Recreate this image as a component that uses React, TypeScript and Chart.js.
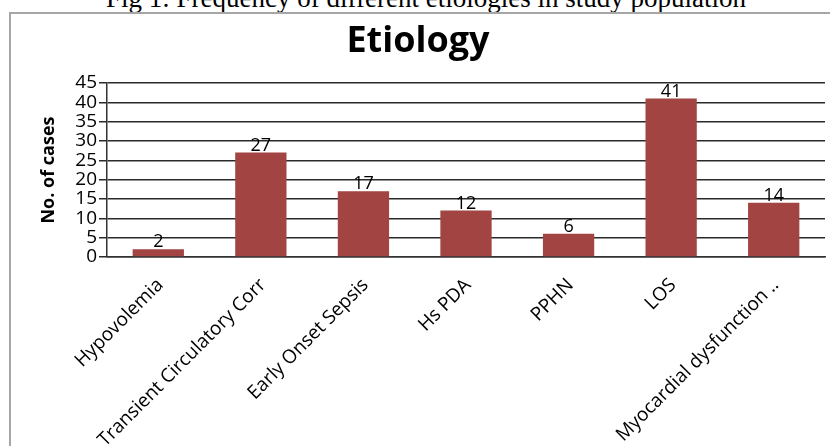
import React, { useEffect, useRef } from "react";
import { Chart, registerables } from "chart.js";

Chart.register(...registerables);

const categories = [
  "Hypovolemia",
  "Transient Circulatory Corr",
  "Early Onset Sepsis",
  "Hs PDA",
  "PPHN",
  "LOS",
  "Myocardial dysfunction ..",
];
const caseCounts = [2, 27, 17, 12, 6, 41, 14];
const yTickMax = 45;
const yTickStep = 5;
const chartTitle = "Etiology";
const yAxisTitle = "No. of cases";
const figureCaption = "Fig 1: Frequency of different etiologies in study population";

const FONT = "'Open Sans', sans-serif";

const valueLabelPlugin = {
  id: "valueLabels",
  afterDatasetsDraw(chart: any) {
    const ctx = chart.ctx;
    const meta = chart.getDatasetMeta(0);
    ctx.save();
    ctx.font = `18px ${FONT}`;
    ctx.fillStyle = "#000";
    ctx.textAlign = "center";
    ctx.textBaseline = "bottom";
    meta.data.forEach((bar: any, i: number) => {
      ctx.fillText(String(chart.data.datasets[0].data[i]), bar.x, bar.y + 2);
    });
    ctx.restore();
  },
};

function EtiologyChart() {
  const ref = useRef<HTMLCanvasElement | null>(null);
  useEffect(() => {
    if (!ref.current) return;
    const chart = new Chart(ref.current, {
      type: "bar",
      data: {
        labels: categories,
        datasets: [
          {
            data: caseCounts,
            backgroundColor: "#a14442",
            borderWidth: 0,
            categoryPercentage: 1,
            barPercentage: 0.5,
          },
        ],
      },
      plugins: [valueLabelPlugin],
      options: {
        responsive: false,
        animation: false,
        layout: { padding: { left: 0, right: 5, top: 0, bottom: 0 } },
        plugins: {
          legend: { display: false },
          tooltip: { enabled: false },
          title: {
            display: true,
            text: chartTitle,
            color: "#000",
            font: { family: FONT, size: 36, weight: "bold" },
            padding: { top: 6, bottom: 19.8 },
          },
        },
        scales: {
          x: {
            afterFit(scale: any) {
              scale.height = 189;
            },
            grid: { display: false, drawTicks: false, tickLength: 0 },
            border: { display: true, color: "#333", width: 1.5 },
            ticks: {
              autoSkip: false,
              minRotation: 45,
              maxRotation: 45,
              padding: 17,
              labelOffset: 2,
              color: "#000",
              font: { family: FONT, size: 19 },
            },
          },
          y: {
            min: 0,
            max: yTickMax,
            afterFit(scale: any) {
              scale.width = 96;
            },
            grid: { color: "#2a2a2a", lineWidth: 1.5, tickLength: 8, drawTicks: true },
            border: { display: true, color: "#333", width: 1.5 },
            ticks: {
              stepSize: yTickStep,
              autoSkip: false,
              padding: 2,
              color: "#000",
              font: { family: FONT, size: 19 },
            },
            title: {
              display: true,
              text: yAxisTitle,
              color: "#000",
              font: { family: FONT, size: 18, weight: "bold" },
              padding: { top: 27, bottom: 0 },
            },
          },
        },
      },
    } as any);
    return () => chart.destroy();
  }, []);
  return <canvas ref={ref} width={819} height={432} style={{ display: "block" }} />;
}

export default function App() {
  return (
    <div
      style={{
        position: "absolute",
        left: 0,
        top: 0,
        width: 830,
        height: 446,
        overflow: "hidden",
        background: "#fff",
      }}
    >
      <div
        style={{
          position: "absolute",
          left: 0,
          top: -15,
          width: 852,
          textAlign: "center",
          fontFamily: "'Liberation Serif', serif",
          fontSize: 27,
          lineHeight: "27px",
          color: "#000",
          whiteSpace: "nowrap",
        }}
      >
        {figureCaption}
      </div>
      <div
        style={{
          position: "absolute",
          left: 9,
          top: 12,
          width: 900,
          height: 500,
          borderLeft: "2px solid #a6a6a6",
          borderTop: "2px solid #a6a6a6",
        }}
      />
      <div style={{ position: "absolute", left: 11, top: 14, width: 819, height: 432 }}>
        <EtiologyChart />
      </div>
    </div>
  );
}
